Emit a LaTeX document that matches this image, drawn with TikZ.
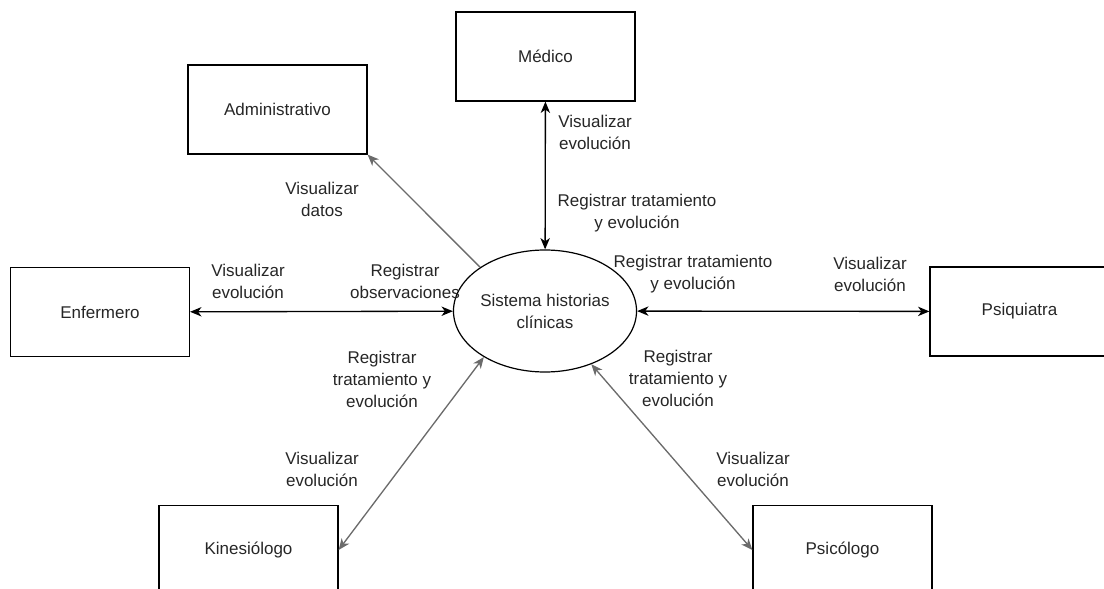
\documentclass[tikz,border=0pt]{standalone}
\usepackage{fontspec}
\setmainfont{Liberation Sans}
\usetikzlibrary{shapes.geometric,arrows.meta}

\begin{document}
\begin{tikzpicture}[x=0.75pt, y=-0.75pt,
        every node/.style={font=\fontsize{12.75}{16.5}\selectfont, text=black!85},
        actor/.style={draw, line width=0.9pt, minimum width=134.25pt, minimum height=66.75pt},
        sistema/.style={draw, ellipse, line width=0.9pt, minimum width=132pt, minimum height=91.5pt, align=center, inner sep=0pt},
        lbl/.style={align=center},
        tip/.style={Stealth[length=8.5pt,width=7pt,inset=2.5pt]},
        flow/.style={line width=1pt, {Stealth[length=8.5pt,width=7pt,inset=2.5pt]}-{Stealth[length=8.5pt,width=7pt,inset=2.5pt]}},
        grayflow/.style={flow, draw=black!58}]
        \useasboundingbox (0,0) rectangle (1104,589);

        % Nodes
        \node (sis) [sistema] at (545,311) {Sistema historias\\clínicas};
        \node (med) [actor] at (545.5,56.5) {Médico};
        \node (adm) [actor] at (277.5,109.5) {Administrativo};
        \node (enf) [actor] at (100,312) {Enfermero};
        \node (psq) [actor] at (1019.5,311.5) {Psiquiatra};
        \node (kin) [actor] at (248.5,550) {Kinesiólogo};
        \node (psi) [actor] at (842.5,550) {Psicólogo};

        % Labels
        \node (admdatos) [lbl] at (322,199) {Visualizar\\datos};
        \node (medver) [lbl] at (595,132) {Visualizar\\evolución};
        \node (medreg) [lbl] at (637,213) {Registrar tratamiento\\y evolución};
        \node (psqreg) [lbl] at (693,274) {Registrar tratamiento\\y evolución};
        \node (psqver) [lbl] at (870,274) {Visualizar\\evolución};
        \node (enfver) [lbl] at (248,281) {Visualizar\\evolución};
        \node (enfreg) [lbl] at (405,281) {Registrar\\observaciones};
        \node (kinreg) [lbl] at (382,379) {Registrar\\tratamiento y\\evolución};
        \node (kinver) [lbl] at (322,469) {Visualizar\\evolución};
        \node (psireg) [lbl] at (678,378) {Registrar\\tratamiento y\\evolución};
        \node (psiver) [lbl] at (753,469) {Visualizar\\evolución};

        % Arrows
        \draw[line width=1pt, draw=black!58, -{Stealth[length=8.5pt,width=7pt,inset=2.5pt]}] (sis.146) -- (adm.south east);
        \draw[flow] (med) -- (sis);
        \draw[flow] (enf) -- (sis);
        \draw[flow] (psq) -- (sis);
        \draw[grayflow] (sis.217) -- (kin.east);
        \draw[grayflow] (sis.311) -- (psi.west);
    \end{tikzpicture}
\end{document}
